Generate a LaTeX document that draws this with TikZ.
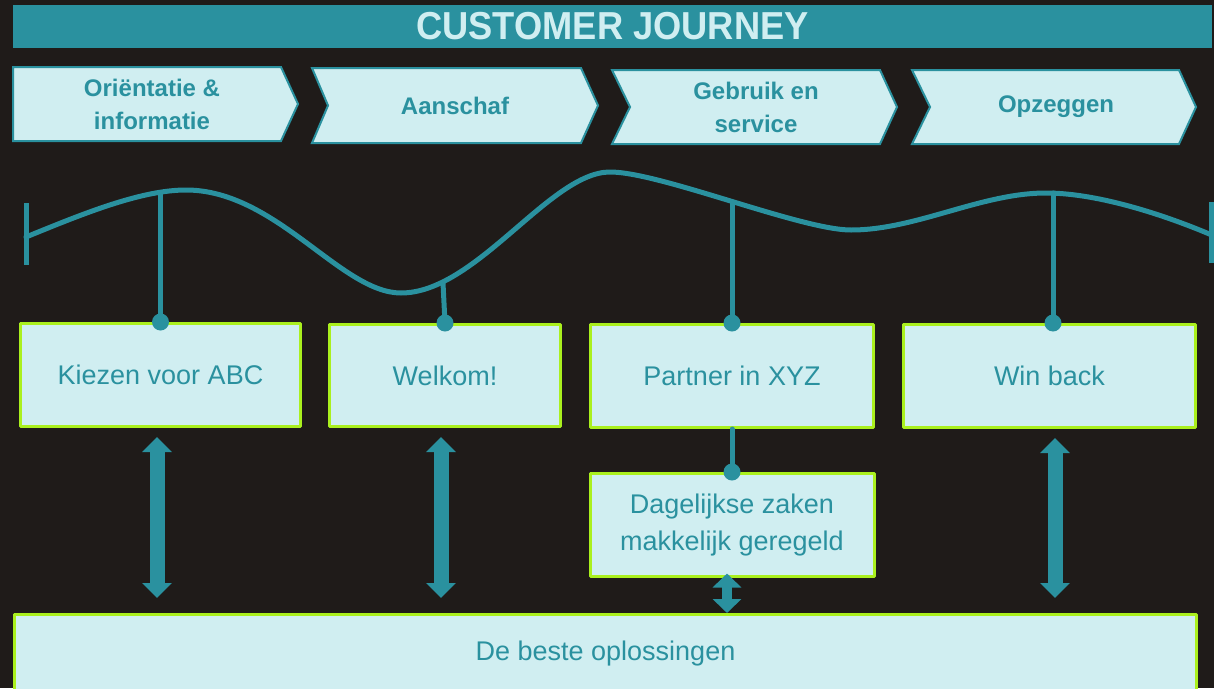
\documentclass[tikz,border=0pt]{standalone}
\usepackage{fontspec}
\setmainfont{Liberation Sans}
\usetikzlibrary{arrows.meta}

\definecolor{fondo}{RGB}{31,27,25}
\definecolor{turquesa}{RGB}{42,145,159}
\definecolor{claro}{RGB}{208,238,241}
\definecolor{lima}{RGB}{170,240,30}

\begin{document}
\begin{tikzpicture}[x=1pt, y=-1pt, line cap=round, line join=round,
  fase/.style={text=turquesa, font=\bfseries\fontsize{24}{33}\selectfont, align=center},
  caja/.style={draw=lima, line width=3pt, fill=claro, text=turquesa, inner sep=0pt,
    font=\fontsize{27}{37}\selectfont, align=center},
  linea/.style={turquesa, line width=5pt},
  flecha/.style={turquesa, line width=15pt,
    {Triangle[width=29pt,length=15pt]}-{Triangle[width=29pt,length=15pt]}}]

  % Fondo
  \useasboundingbox (0,0) rectangle (1214,688);
  \fill[fondo] (0,0) rectangle (1214,688);

  % Titulo
  \node[fill=turquesa, text=claro, minimum width=1199pt, minimum height=43pt, inner sep=0pt,
    font=\bfseries\fontsize{39}{42}\selectfont] (titulo) at (612.5,26.5)
    {\scalebox{0.93}[1]{CUSTOMER JOURNEY}};

  % Fases (flechas)
  \foreach \xa/\xb/\ya/\yb/\m in {13/281/67/141/0, 312/581/68/143/16, 612/880/70/144/18, 912/1179/70/144/18}
    \draw[turquesa, line width=2pt, line join=miter, fill=claro]
      (\xa,\ya) -- (\xb,\ya) -- (\xb+17,{(\ya+\yb)/2}) -- (\xb,\yb) -- (\xa,\yb)
      -- (\xa+\m,{(\ya+\yb)/2}) -- cycle;
  \node[fase] (orient) at (152,104) {Oriëntatie \&\\informatie};
  \node[fase] (aanschaf) at (455,106) {Aanschaf};
  \node[fase] (gebruik) at (756,107) {Gebruik en\\service};
  \node[fase] (opzeggen) at (1056,107) {Opzeggen};

  % Curva
  \draw[linea] (26,237) .. controls (80,215) and (140,190) .. (186,190)
    .. controls (276,190) and (341,293) .. (401,293)
    .. controls (476,293) and (550,172) .. (610,172)
    .. controls (660,172) and (801,230) .. (851,230)
    .. controls (916,230) and (981,193) .. (1046,193)
    .. controls (1100,193) and (1170,217) .. (1214,236);
  \draw[linea, line cap=butt] (26,203) -- (26,265);
  \draw[linea, line cap=butt] (1211,202) -- (1211,263);
  \coordinate (w1) at (160.5,193);
  \coordinate (w2) at (443,283);
  \coordinate (w3) at (732,202);
  \coordinate (w4) at (1053,193);

  % Cajas
  \node[caja, minimum width=280pt, minimum height=103pt] (kiezen) at (160.5,375) {Kiezen voor ABC};
  \node[caja, minimum width=231pt, minimum height=102pt] (welkom) at (445,375.5) {Welkom!};
  \node[caja, minimum width=283pt, minimum height=103pt] (partner) at (732,376) {Partner in XYZ};
  \node[caja, minimum width=292pt, minimum height=103pt] (winback) at (1049.5,376) {Win back};
  \node[caja, minimum width=284pt, minimum height=103pt] (dagelijks) at (732,525)
    {Dagelijkse zaken\\makkelijk geregeld};
  \node[caja, minimum width=1182pt, minimum height=78pt] (beste) at (605.5,653.5) {De beste oplossingen};

  % Enlaces con punto
  \foreach \w/\c in {w1/kiezen, w2/welkom, w3/partner} {
    \draw[linea] (\w) -- (\c.north);
    \fill[turquesa] (\c.north) circle (8.5pt);
  }
  \draw[linea] (w4) -- (w4 |- winback.north);
  \fill[turquesa] (w4 |- winback.north) circle (8.5pt);
  \draw[linea] (partner.south) -- (dagelijks.north);
  \fill[turquesa] (dagelijks.north) circle (8.5pt);

  % Flechas dobles
  \foreach \c/\dx in {kiezen/-3.5, welkom/-4, winback/5.5} {
    \coordinate (arr) at ([xshift=\dx pt]\c.south);
    \draw[flecha, shorten <=9pt, shorten >=15pt] (arr) -- (arr |- beste.north);
  }
  \coordinate (arr) at ([xshift=-5pt]dagelijks.south);
  \draw[flecha, line width=10pt, {Triangle[width=28pt,length=14pt]}-{Triangle[width=28pt,length=14pt]},
    shorten <=-4.5pt] (arr) -- (arr |- beste.north);
\end{tikzpicture}
\end{document}
